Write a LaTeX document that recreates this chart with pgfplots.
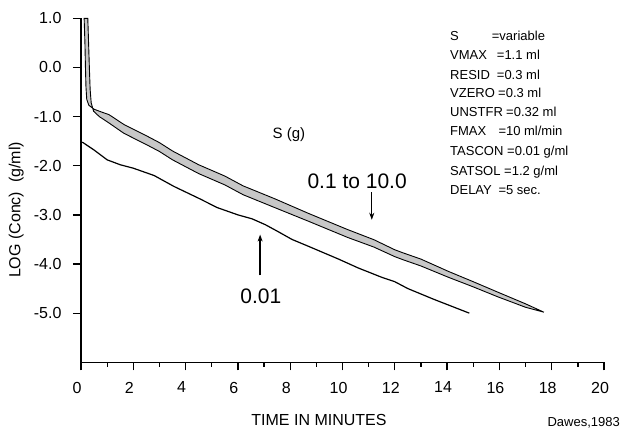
\documentclass[border=0pt]{standalone}
\usepackage{fontspec}
\setmainfont{Liberation Sans}
\usepackage{pgfplots}
\pgfplotsset{compat=1.18}
\usetikzlibrary{arrows.meta}

\begin{document}
\begin{tikzpicture}
\begin{axis}[
  scale only axis, width=523pt, height=344pt,
  xmin=0, xmax=20, ymin=-6, ymax=1,
  axis x line=bottom, axis y line=left,
  axis line style={-, line width=1.6pt},
  xtick={0,2,...,20},
  xticklabels={0,2,4,6,8,10,12,14,16,18,20},
  minor x tick num=1,
  ytick={-5,-4,-3,-2,-1,0,1},
  yticklabels={-5.0,-4.0,-3.0,-2.0,-1.0,0.0,1.0},
  tick align=outside, major tick length=8pt, minor tick length=4.5pt,
  tick style={line width=1.3pt, black},
  tick label style={font=\fontsize{16}{19}\selectfont},
  xticklabel style={xshift=-4pt, yshift=-8pt},
  yticklabel style={xshift=-8pt},
  xlabel={TIME IN MINUTES},
  ylabel={LOG (Conc)\ \ (g/ml)},
  xlabel style={at={(axis description cs:0.455,-0.168)}, anchor=center,
    font=\fontsize{16}{19}\selectfont},
  ylabel style={at={(axis description cs:-0.124,0.443)}, anchor=center,
    font=\fontsize{16}{19}\selectfont},
  clip=false,
]
% S = 0.1 to 10.0 : shaded band (upper edge, then lower edge back)
\addplot[draw=black, line width=0.9pt, fill=black!22] coordinates {
  (0.12,1.0) (0.15,0.5) (0.17,0.0) (0.19,-0.4) (0.22,-0.65) (0.3,-0.77)
  (0.5,-0.85) (0.8,-0.91) (1.07,-0.96) (1.64,-1.16) (2.5,-1.39) (3.0,-1.53)
  (3.5,-1.70) (4.5,-1.98) (5.5,-2.21) (6.2,-2.41) (7.4,-2.67) (8.7,-2.97)
  (10.2,-3.30) (11.2,-3.505) (12.0,-3.71) (12.3,-3.77) (13.0,-3.90)
  (14.05,-4.15) (15.0,-4.36) (15.95,-4.575) (17.0,-4.81) (17.7,-4.98)
  (17.0,-4.88) (15.95,-4.67) (15.0,-4.465) (14.05,-4.27) (13.0,-4.04)
  (12.3,-3.91) (12.0,-3.85) (11.2,-3.655) (10.2,-3.46) (8.7,-3.13)
  (7.4,-2.85) (6.2,-2.59) (5.5,-2.39) (4.5,-2.16) (3.5,-1.88) (3.0,-1.71)
  (2.5,-1.57) (1.64,-1.34) (1.07,-1.13) (0.7,-1.0) (0.48,-0.89)
  (0.39,-0.72) (0.35,-0.45) (0.32,0.0) (0.29,0.5) (0.26,1.0)
} -- cycle;
% S = 0.01
\addplot[black, line width=1.2pt] coordinates {
  (0.05,-1.52) (0.5,-1.68) (1.0,-1.88) (1.5,-1.98) (2.0,-2.05) (2.8,-2.20)
  (3.55,-2.42) (4.57,-2.68) (5.2,-2.85) (6.0,-3.0) (6.54,-3.08) (7.05,-3.20)
  (7.5,-3.33) (8.07,-3.50) (8.7,-3.64) (9.85,-3.90) (10.6,-4.08)
  (11.5,-4.27) (12.0,-4.36) (12.5,-4.50) (13.5,-4.72) (14.85,-5.0)
};
\draw[line width=1.3pt, -{Stealth[length=7pt,width=5pt]}]
  (axis cs:6.85,-4.23) -- (axis cs:6.85,-3.40);
\draw[line width=1.3pt, -{Stealth[length=7pt,width=5pt]}]
  (axis cs:11.12,-2.54) -- (axis cs:11.12,-3.10);
\node[font=\fontsize{21}{24}\selectfont] at (axis cs:6.88,-4.65) {0.01};
\node[font=\fontsize{21}{24}\selectfont] at (axis cs:10.56,-2.32) {0.1 to 10.0};
\node[font=\fontsize{15}{18}\selectfont] at (axis cs:7.95,-1.36) {S (g)};
\end{axis}
\begin{scope}[every node/.style={anchor=mid west, inner sep=0pt,
    font=\fontsize{13}{15}\selectfont}]
\node at (369pt,324pt) {S};        \node at (410.7pt,324pt) {=variable};
\node at (369pt,305.6pt) {VMAX};   \node at (415.7pt,305.6pt) {=1.1 ml};
\node at (369pt,285.6pt) {RESID};  \node at (415.7pt,285.6pt) {=0.3 ml};
\node at (369pt,267.3pt) {VZERO};  \node at (417pt,267.3pt) {=0.3 ml};
\node at (369pt,248.3pt) {UNSTFR}; \node at (425pt,248.3pt) {=0.32 ml};
\node at (369pt,229pt) {FMAX};     \node at (417.3pt,229pt) {=10 ml/min};
\node at (369pt,209.6pt) {TASCON}; \node at (426pt,209.6pt) {=0.01 g/ml};
\node at (369pt,189.6pt) {SATSOL}; \node at (423pt,189.6pt) {=1.2 g/ml};
\node at (369pt,170.6pt) {DELAY};  \node at (417.3pt,170.6pt) {=5 sec.};
\end{scope}
\node[anchor=east, inner sep=0pt, font=\fontsize{13}{15}\selectfont]
  at (539pt,-60.4pt) {Dawes,1983};
\pgfresetboundingbox
\useasboundingbox (-81pt,-69.7pt) rectangle (539pt,362.3pt);
\end{tikzpicture}
\end{document}
